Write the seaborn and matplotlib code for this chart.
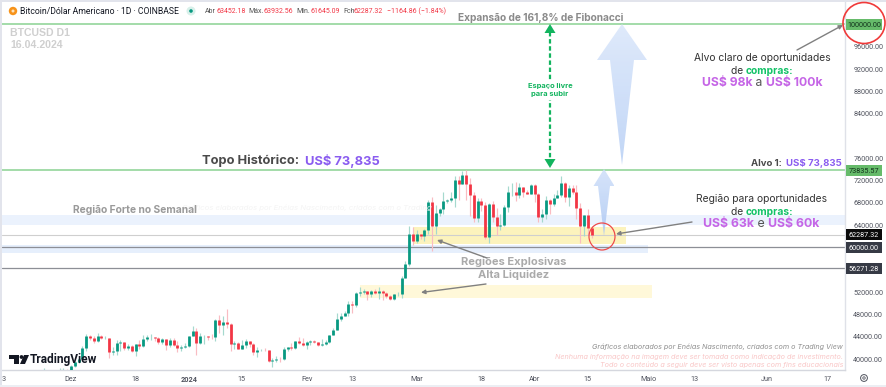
import numpy as np
import pandas as pd
import matplotlib
matplotlib.use("Agg")
import matplotlib.pyplot as plt
from matplotlib.colors import LinearSegmentedColormap
from matplotlib.patches import Rectangle, Polygon, Ellipse, Circle
import seaborn as sns

# ---------- data (prices in USD thousands) ----------
start_date = "2023-11-15"
opens = [35.55,37.88,36.16,36.60,36.57,37.36,37.45,35.83,37.40,37.32,37.72,37.79,37.45,37.24,37.82,37.85,
 37.72,38.69,39.46,39.97,41.98,44.08,43.77,43.29,44.18,43.72,43.79,41.24,41.45,42.89,43.02,41.94,42.26,41.37,42.66,42.27,43.66,43.86,43.99,43.74,43.02,43.61,42.52,43.44,42.58,41.95,42.15,
 42.28,44.18,44.95,42.85,44.15,44.17,43.97,43.93,46.97,46.11,46.65,46.35,42.78,42.85,41.73,42.51,43.14,42.74,41.27,41.62,41.68,41.58,39.57,39.89,40.08,39.93,41.82,42.12,42.03,43.30,42.95,
 42.58,43.08,43.20,42.99,42.58,42.66,43.09,44.34,45.29,47.15,47.77,48.29,49.95,49.70,51.80,51.94,52.13,51.65,52.13,51.78,52.28,51.85,51.30,50.74,51.57,51.73,54.48,57.04,62.47,
 61.13,62.39,61.99,63.13,68.25,63.78,66.10,66.93,68.30,68.49,68.95,72.12,71.47,73.07,71.39,69.50,65.30,68.39,67.61,61.93,67.84,65.50,63.78,64.05,67.21,69.96,69.99,69.45,70.78,69.88,69.64,
 71.30,69.65,65.46,65.97,68.51,67.84,68.90,69.36,71.63,69.13,70.63,70.00,67.16,63.93,65.74,63.452]
highs = [37.98,37.93,36.77,36.84,37.51,37.75,37.65,37.86,37.64,38.43,37.90,37.83,37.58,38.40,38.44,38.17,
 38.99,39.70,40.22,42.42,44.49,44.30,44.05,44.71,44.37,44.05,43.80,42.10,43.43,43.42,43.09,42.70,42.43,42.77,43.48,44.28,44.23,44.40,44.02,44.03,43.80,43.61,43.68,43.80,43.14,42.60,42.88,
 44.19,45.90,45.50,44.73,44.35,44.21,44.48,47.25,47.90,47.70,49.05,46.50,43.25,43.08,43.40,43.58,43.20,42.90,42.20,41.85,41.90,41.68,40.15,40.55,40.32,42.22,42.20,42.85,43.31,43.88,43.75,
 43.28,43.42,43.38,43.12,43.53,43.40,44.38,45.60,48.20,48.17,48.59,50.34,50.37,52.04,52.83,52.58,52.20,52.37,52.48,52.98,52.38,52.05,51.54,51.70,51.95,54.93,57.58,63.90,63.65,
 63.20,62.45,63.23,68.54,69.00,67.64,67.00,70.00,68.70,70.00,72.80,72.90,73.65,73.835,72.40,70.00,68.90,68.95,68.15,68.00,68.30,67.00,65.95,67.60,71.10,71.55,71.75,71.55,70.90,70.30,71.35,
 71.35,69.70,66.90,69.30,68.70,69.60,70.30,72.75,71.75,71.15,71.25,71.20,67.90,65.85,66.85,63.933]
lows = [35.36,35.68,35.88,36.19,36.39,36.70,35.75,35.65,36.87,37.25,37.62,37.15,36.72,36.88,37.62,37.50,
 37.60,38.65,39.28,39.97,41.42,43.34,42.85,43.09,43.59,43.57,40.22,40.68,40.65,41.42,41.67,41.70,41.25,40.53,41.82,42.20,43.30,43.40,43.30,42.65,42.75,41.65,42.10,42.33,41.30,41.52,41.97,
 42.19,44.18,40.75,42.63,42.63,43.40,43.57,43.20,44.75,44.30,45.60,41.50,41.72,41.72,41.73,42.05,42.20,40.65,40.28,41.45,41.50,39.44,38.52,39.49,39.55,39.83,41.40,41.62,41.80,42.70,42.28,
 41.88,42.56,42.89,42.25,42.26,42.58,42.79,44.34,45.25,46.80,47.63,47.70,48.32,49.27,51.35,51.60,50.62,51.18,51.70,50.80,50.60,50.95,50.53,50.55,51.30,50.90,54.45,56.70,60.40,
 60.80,61.60,61.14,62.40,59.30,62.40,65.60,66.05,68.05,68.20,67.20,68.60,71.35,68.50,65.60,64.55,64.60,66.60,61.55,60.80,64.60,62.30,63.20,63.80,66.40,69.30,68.40,68.90,69.10,69.60,69.60,
 68.20,64.50,64.50,65.10,66.00,67.45,68.80,69.10,68.20,67.50,69.55,65.10,60.80,62.15,62.30,61.645]
closes = [37.88,36.16,36.60,36.57,37.36,37.45,35.83,37.40,37.32,37.72,37.79,37.45,37.24,37.82,37.85,37.72,
 38.69,39.46,39.97,41.98,44.08,43.77,43.29,44.18,43.72,43.79,41.24,41.45,42.89,43.02,41.94,42.26,41.37,42.66,42.27,43.66,43.86,43.99,43.74,43.02,43.61,42.52,43.44,42.58,41.95,42.15,42.28,
 44.18,44.95,42.85,44.15,44.17,43.97,43.93,46.97,46.11,46.65,46.35,42.78,42.85,41.73,42.51,43.14,42.74,41.27,41.62,41.68,41.58,39.57,39.89,40.08,39.93,41.82,42.12,42.03,43.30,42.95,42.58,
 43.08,43.20,42.99,42.58,42.66,43.09,44.34,45.29,47.15,47.77,48.29,49.95,49.70,51.80,51.94,52.13,51.65,52.13,51.78,52.28,51.85,51.30,50.74,51.57,51.73,54.48,57.04,62.47,61.13,
 62.39,61.99,63.13,68.25,63.78,66.10,66.93,68.30,68.49,68.95,72.12,71.47,73.07,71.39,69.50,65.30,68.39,67.61,61.93,67.84,65.50,63.78,64.05,67.21,69.96,69.99,69.45,70.78,69.88,69.64,71.30,
 69.65,65.46,65.97,68.51,67.84,68.90,69.36,71.63,69.13,70.63,70.00,67.16,63.93,65.74,63.42,62.287]

axis_prices = [40,44,48,52,64,68,72,76,84,88,92,96]
date_ticks = ["2023-11-13","2023-12-01","2023-12-18","2024-01-01","2024-01-15","2024-02-01","2024-02-13",
              "2024-03-01","2024-03-18","2024-04-01","2024-04-15","2024-05-01","2024-05-13","2024-06-01","2024-06-17"]
date_labels = ["13","Dez","18","2024","15","Fev","13","Mar","18","Abr","15","Maio","13","Jun","17"]
level_target, level_top, level_close, level_60, level_56 = 100.0, 73.83557, 62.28732, 60.0, 56.27128
blue_band_1 = (64.0, 65.9)
blue_band_2 = (59.0, 60.5)
yellow_zone_1 = ("2024-02-29", "2024-04-25", 60.65, 63.75)
yellow_zone_2 = ("2024-02-15", "2024-05-02", 50.9, 53.2)

# ---------- colours ----------
GREEN, RED = "#089981", "#f23645"
GREEN_W, RED_W = "#a5d9ce", "#f9bcc2"
LINE_G = "#93d69b"
PURPLE, PINK, BUY = "#8a5cf0", "#c565e6", "#12c267"
FONT = "Inter"

sns.set_theme(style="white")
plt.rcParams["font.family"] = [FONT, "DejaVu Sans"]

W, H = 886, 387
fig = plt.figure(figsize=(W/100, H/100), dpi=100, facecolor="white")
PX_L, PX_R, PX_T, PX_B = 2, 845, 2, 370
ax = fig.add_axes([PX_L/W, 1-PX_B/H, (PX_R-PX_L)/W, (PX_B-PX_T)/H])

days = pd.date_range(start_date, periods=len(closes), freq="D")
ref = pd.Timestamp("2023-12-01")
def dnum(d):
    return (pd.Timestamp(d) - ref).days

df = pd.DataFrame({"day": [(d-ref).days for d in days], "o": opens, "h": highs, "l": lows, "c": closes})
df["dir"] = np.where(df.c >= df.o, "up", "down")
wick = pd.concat([df.assign(price=df.h), df.assign(price=df.l)]).sort_values("day")
body = pd.concat([df.assign(price=df.o), df.assign(price=df.c)]).sort_values("day")

# horizontal structure
ax.set_xlim((PX_L-71)/3.8, (PX_R-71)/3.8)
ppk = 5.575
ax.set_ylim(100-(PX_B-24.5)/ppk, 100+(24.5-PX_T)/ppk)
ax.axhspan(*blue_band_1, color="#ebf2fd", lw=0, zorder=0.5)
ax.axhspan(*blue_band_2, xmax=(648-PX_L)/(PX_R-PX_L), color="#e6effc", lw=0, zorder=0.5)
for z, col in [(yellow_zone_1, "#fcf3bd"), (yellow_zone_2, "#fff8d9")]:
    ax.add_patch(Rectangle((dnum(z[0]), z[2]), dnum(z[1])-dnum(z[0]), z[3]-z[2], color=col, lw=0, zorder=0.7))
ax.axhline(level_target, color=LINE_G, lw=1.2, zorder=1)
ax.axhline(level_top, color=LINE_G, lw=1.2, zorder=1)
ax.axhline(level_close, color="#cfcfcf", lw=0.8, zorder=1)
ax.axhline(level_60, color="#8d8f96", lw=0.9, zorder=1)
ax.axhline(level_56, color="#8d8f96", lw=0.9, zorder=1)

# candles
sns.lineplot(data=wick, x="day", y="price", units="day", estimator=None, hue="dir", sort=False,
             palette={"up": GREEN_W, "down": RED_W}, linewidth=0.85, legend=False, ax=ax,
             solid_capstyle="butt", zorder=2)
sns.lineplot(data=body, x="day", y="price", units="day", estimator=None, hue="dir", sort=False,
             palette={"up": GREEN, "down": RED}, linewidth=2.0, legend=False, ax=ax,
             solid_capstyle="butt", zorder=3)

# axes
ax.yaxis.tick_right()
ax.set_yticks(axis_prices)
ax.set_yticklabels([f"{p*1000:.2f}" for p in axis_prices], fontsize=5.2, color="#50535e", family="Roboto")
ax.set_xticks([dnum(d) for d in date_ticks])
ax.set_xticklabels(date_labels, fontsize=5.2, color="#50535e", family="Roboto")
ax.get_xticklabels()[3].set_fontweight("bold")
ax.tick_params(axis="y", length=0, pad=6)
ax.tick_params(axis="x", length=0, pad=4)
ax.set_xlabel(""); ax.set_ylabel("")
for s in ["top", "left"]:
    ax.spines[s].set_visible(False)
ax.spines["right"].set_color("#dfe1e8"); ax.spines["right"].set_linewidth(1)
ax.spines["bottom"].set_color("#d5d7de"); ax.spines["bottom"].set_linewidth(1)

# right axis price boxes
for p, col, tc, label in [(level_target, "#66bb6a", "#10301a", "100000.00"),
                          (level_top, "#66bb6a", "#10301a", "73835.57"),
                          (level_close, "#0b0b0b", "white", "62287.32"),
                          (level_60, "#363a45", "white", "60000.00"),
                          (level_56, "#363a45", "white", "56271.28")]:
    tr = ax.get_yaxis_transform()
    ax.add_patch(Rectangle((1.0015, p-1.0), 36/843, 2.0, transform=tr, color=col, lw=0, clip_on=False, zorder=6))
    ax.text(1+(864-845)/843, p, label, transform=tr, ha="center", va="center_baseline", fontsize=5.2,
            color=tc, family="Roboto", zorder=7)

# ---------- overlay in picture pixels for decorations ----------
ov = fig.add_axes([0, 0, 1, 1], facecolor="none")
ov.set_xlim(0, W); ov.set_ylim(H, 0); ov.axis("off")
ov.add_patch(Rectangle((0, 0), W, 1.5, color="#e2e4ec", lw=0))
ov.add_patch(Rectangle((0, 0), 2, H, color="#e2e4ec", lw=0))
ov.add_patch(Rectangle((0, 384.5), W, 3, color="#eceef3", lw=0))

renderer = fig.canvas.get_renderer()
def seq(x, y, parts, ha="left", size=8, **kw):
    """Write text segments in several colours / weights on one baseline."""
    arts = []
    for txt, col, wt in parts:
        arts.append(ov.text(0, y, txt, color=col, fontweight=wt, fontsize=size, va="center", ha="left", **kw))
    ws = [a.get_window_extent(renderer).width for a in arts]
    total = sum(ws)
    cur = x - (total/2 if ha == "center" else total if ha == "right" else 0)
    for a, w in zip(arts, ws):
        a.set_x(cur); cur += w

# header
ov.add_patch(Circle((13, 11), 4.2, color="#f7931a", lw=0))
ov.add_patch(Circle((13, 11), 1.5, color="#fde3bd", lw=0))
ov.text(20, 11.5, "Bitcoin/Dólar Americano · 1D · COINBASE", fontsize=6.2, color="#131722", va="center", family="Roboto")
ov.add_patch(Circle((191, 11), 4.5, color="#d8f0ea", lw=0))
ov.add_patch(Circle((191, 11), 1.8, color=GREEN, lw=0))
for x, t, c in [(205, "Abr", "#555"), (217, "63452.18", RED), (248, "Máx.", "#555"), (264, "63932.56", RED),
                (296, "Mín.", "#555"), (311, "61645.09", RED), (343, "Fch", "#555"), (354, "62287.32", RED),
                (387, "−1164.86 (−1.84%)", RED)]:
    ov.text(x, 11.5, t, fontsize=5, color=c, va="center", family="Roboto")

ov.text(10, 32.5, "BTCUSD D1", fontsize=7.6, fontweight="bold", color="#cfcfcf", va="center", family="Liberation Sans")
ov.text(10, 45.5, "16.04.2024", fontsize=7.6, fontweight="bold", color="#cfcfcf", va="center", family="Liberation Sans")

ov.text(540.5, 18, "Expansão de 161,8% de Fibonacci", fontsize=7.3, fontweight="bold", color="#8a8a8a", ha="center", va="center")

# blue up arrows, paler towards the tail
def up_arrow(xc, tip, base, tail, head_half, shaft_half, top_col, low_col):
    poly = Polygon([(xc, tip), (xc+head_half, base), (xc+shaft_half, base), (xc, tail),
                    (xc-shaft_half, base), (xc-head_half, base)], closed=True, fc="none", ec="none",
                   transform=ov.transData)
    ov.add_patch(poly)
    cmap = LinearSegmentedColormap.from_list("arrow", [top_col, low_col])
    im = ov.imshow(np.linspace(0, 1, 64)[:, None], cmap=cmap, aspect="auto", origin="upper",
                   extent=(xc-head_half, xc+head_half, tail, tip), alpha=0.85, zorder=4)
    im.set_clip_path(poly)
    ov.set_xlim(0, W); ov.set_ylim(H, 0)
up_arrow(622, 24, 60, 165, 25, 12, "#d9e6fb", "#b7cff5")
up_arrow(604, 169, 186, 236, 10.5, 6, "#cfdff9", "#aac6f3")

# free space arrow
ov.plot([550, 550], [32, 160], color="#12b45e", lw=1.6, ls=(0, (2, 1.2)), zorder=5)
ov.add_patch(Polygon([(550, 24), (555.5, 33), (544.5, 33)], color="#12b45e", lw=0, zorder=5))
ov.add_patch(Polygon([(550, 168), (555.5, 159), (544.5, 159)], color="#12b45e", lw=0, zorder=5))
ov.text(550, 90, "Espaço livre\npara subir", fontsize=5.4, fontweight="bold", color="#12b45e", ha="center", va="center",
        linespacing=1.35, bbox=dict(fc="white", ec="none", pad=2.5), zorder=6)

# top labels
seq(202, 161, [("Topo Histórico:  ", "#4a4a4a", "bold"), ("US$ 73,835", PURPLE, "bold")], size=9.3)
seq(842, 164, [("Alvo 1:  ", "#4a4a4a", "bold"), ("US$ 73,835", PURPLE, "bold")], ha="right", size=6.9)

ov.text(73, 210, "Região Forte no Semanal", fontsize=7.4, fontweight="bold", color="#9a9a9a", va="center")
ov.text(432, 208, "Gráficos elaborados por Enéias Nascimento, criados com o Trading", fontsize=5.6, style="italic",
        color="#f4f4f4", ha="right", va="center", zorder=0.9)
ov.text(514, 262, "Regiões Explosivas", fontsize=8, fontweight="bold", color="#aaaaaa", ha="center", va="center")
ov.text(514, 275, "Alta Liquidez", fontsize=8, fontweight="bold", color="#aaaaaa", ha="center", va="center")

for (x0, y0), (x1, y1) in [((487, 258), (437, 240)), ((486, 284), (421, 292.5)),
                           ((692, 222), (616, 234)), ((797, 50), (843, 25))]:
    ov.annotate("", xy=(x1, y1), xytext=(x0, y0),
                arrowprops=dict(arrowstyle="-|>", color="#808080", lw=1, mutation_scale=6, shrinkA=0, shrinkB=0), zorder=8)

# red circles
ov.add_patch(Ellipse((602, 236.5), 26, 27, fc="none", ec="#ee4b4b", lw=0.9, zorder=8))
ov.add_patch(Ellipse((864, 23), 42, 41, fc="none", ec="#f03a3a", lw=1.2, zorder=8))

# call-outs
ov.text(762, 58, "Alvo claro de oportunidades", fontsize=7.4, color="#333333", ha="center", va="center")
seq(762, 70.5, [("de ", "#333333", "normal"), ("compras:", BUY, "bold")], ha="center", size=7.4)
seq(762, 83, [("US$ 98k", PINK, "bold"), (" a ", "#555555", "normal"), ("US$ 100k", PINK, "bold")], ha="center", size=8.8)
ov.text(762, 199.5, "Região para oportunidades", fontsize=7.4, color="#333333", ha="center", va="center")
seq(762, 212, [("de ", "#333333", "normal"), ("compras:", BUY, "bold")], ha="center", size=7.4)
seq(761.5, 224, [("US$ 63k", PINK, "bold"), (" e ", "#555555", "normal"), ("US$ 60k", PINK, "bold")], ha="center", size=8.9)

# credits
ov.text(843, 347, "Gráficos elaborados por Enéias Nascimento, criados com o Trading View", fontsize=5.2, style="italic",
        color="#8e8e8e", ha="right", va="center")
ov.text(843, 357, "Nenhuma informação na imagem deve ser tomada como indicação de investimento.", fontsize=5.2, style="italic",
        color="#f9c6c6", ha="right", va="center")
ov.text(843, 364.5, "Todo o conteúdo a seguir deve ser visto apenas com fins educacionais", fontsize=5.2, style="italic",
        color="#f9c6c6", ha="right", va="center")

# TradingView mark
ov.add_patch(Polygon([(9, 355), (19, 355), (19, 364), (14.5, 364), (14.5, 359), (9, 359)], color="#131722", lw=0, zorder=9))
ov.add_patch(Circle((21.5, 357), 1.9, color="#131722", lw=0, zorder=9))
ov.add_patch(Polygon([(24, 355), (29, 355), (25, 364), (20, 364)], color="#131722", lw=0, zorder=9))
ov.text(30, 359.5, "TradingView", fontsize=8.6, fontweight="bold", color="#131722", va="center", family="Roboto", zorder=9)

# settings icon
ov.add_patch(Circle((864, 378), 3.4, fc="none", ec="#50535e", lw=0.7))
ov.add_patch(Circle((864, 378), 1.2, fc="none", ec="#50535e", lw=0.6))

fig.savefig("out.png", dpi=100, facecolor="white")
